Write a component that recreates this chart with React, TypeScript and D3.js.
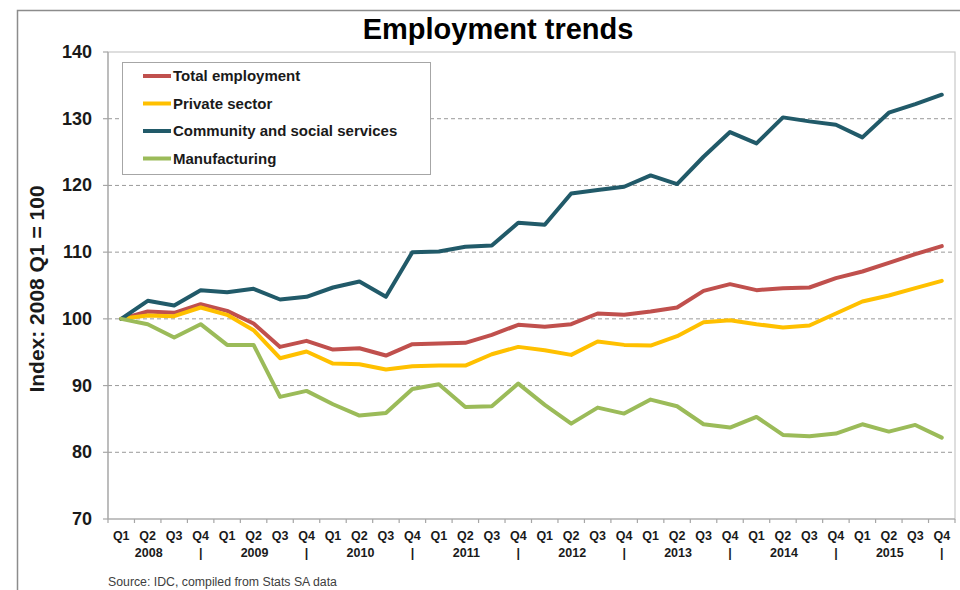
import React from "react";
import * as d3 from "d3";

const quarters = ["Q1", "Q2", "Q3", "Q4"];
const years = ["2008", "2009", "2010", "2011", "2012", "2013", "2014", "2015"];
const categories = years.flatMap((y) => quarters.map((q) => `${y} ${q}`));

const seriesNames = ["Total employment", "Private sector", "Community and social services", "Manufacturing"];

const totalEmployment = [100, 101.1, 100.9, 102.2, 101.2, 99.3, 95.8, 96.7, 95.4, 95.6, 94.5, 96.2, 96.3, 96.4, 97.6, 99.1, 98.8, 99.2, 100.8, 100.6, 101.1, 101.7, 104.2, 105.2, 104.3, 104.6, 104.7, 106.1, 107.1, 108.4, 109.7, 110.9];
const privateSector = [100, 100.5, 100.4, 101.7, 100.6, 98.3, 94.1, 95.1, 93.3, 93.2, 92.4, 92.9, 93.0, 93.0, 94.7, 95.8, 95.3, 94.6, 96.6, 96.1, 96.0, 97.4, 99.5, 99.8, 99.2, 98.7, 99.0, 100.8, 102.6, 103.5, 104.6, 105.7];
const communityServices = [100, 102.7, 102.0, 104.3, 104.0, 104.5, 102.9, 103.3, 104.7, 105.6, 103.3, 110.0, 110.1, 110.8, 111.0, 114.4, 114.1, 118.8, 119.3, 119.8, 121.5, 120.2, 124.3, 128.0, 126.3, 130.2, 129.6, 129.1, 127.2, 130.9, 132.2, 133.6];
const manufacturing = [100, 99.2, 97.2, 99.2, 96.1, 96.1, 88.3, 89.2, 87.2, 85.5, 85.9, 89.5, 90.2, 86.8, 86.9, 90.3, 87.1, 84.3, 86.7, 85.8, 87.9, 86.9, 84.2, 83.7, 85.3, 82.6, 82.4, 82.8, 84.2, 83.1, 84.1, 82.2];

const yTicks = [70, 80, 90, 100, 110, 120, 130, 140];
const colors = ["#c0504d", "#ffc000", "#215a69", "#9bbb59"];

export default function App() {
  const W = 960, H = 590;
  const left = 108, right = 955, top = 52, bottom = 519;
  const x = d3.scaleBand<number>().domain(d3.range(categories.length)).range([left, right]);
  const cx = (i: number) => (x(i) as number) + x.bandwidth() / 2;
  const y = d3.scaleLinear().domain([70, 140]).range([bottom, top]);
  const line = d3.line<number>().x((_, i) => cx(i)).y((v) => y(v));
  const series = [totalEmployment, privateSector, communityServices, manufacturing];
  const font = "'Liberation Sans', Arial, sans-serif";

  return (
    <svg width={W} height={H} style={{ position: "fixed", left: 0, top: 0, background: "#fff" }} fontFamily={font}>
      <rect x={0} y={0} width={W} height={H} fill="#fff" />
      <rect x={17.5} y={10.5} width={960} height={600} fill="none" stroke="#8c8c8c" strokeWidth={1.5} />
      <text x={498} y={39} textAnchor="middle" fontSize={29} fontWeight="bold" fill="#000">Employment trends</text>

      {/* plot border */}
      <rect x={left} y={top} width={right - left} height={bottom - top} fill="none" stroke="#c9c9c9" strokeWidth={1.2} />

      {/* gridlines */}
      {yTicks.filter((t) => t > 70 && t < 140).map((t) => (
        <line key={t} x1={left} x2={right} y1={y(t)} y2={y(t)} stroke="#9a9a9a" strokeWidth={1} strokeDasharray="4,3" />
      ))}

      {/* y axis */}
      <line x1={left} x2={left} y1={top} y2={bottom} stroke="#a6a6a6" strokeWidth={1.2} />
      {yTicks.map((t) => (
        <g key={t}>
          <line x1={left - 5} x2={left} y1={y(t)} y2={y(t)} stroke="#a6a6a6" strokeWidth={1.2} />
          <text x={92} y={y(t) + 6} textAnchor="end" fontSize={18} fontWeight="bold" fill="#1a1a1a">{t}</text>
        </g>
      ))}
      <text transform={`translate(44,${289}) rotate(-90)`} textAnchor="middle" fontSize={21} fontWeight="bold" fill="#1a1a1a">Index: 2008 Q1 = 100</text>

      {/* x axis */}
      <line x1={left} x2={right} y1={bottom} y2={bottom} stroke="#a6a6a6" strokeWidth={1.2} />
      {d3.range(categories.length + 1).map((i) => {
        const xx = i < categories.length ? (x(i) as number) : right;
        return <line key={i} x1={xx} x2={xx} y1={bottom} y2={bottom + 4} stroke="#a6a6a6" strokeWidth={1.2} />;
      })}
      {categories.map((c, i) => (
        <text key={c} x={cx(i)} y={540} textAnchor="middle" fontSize={12.5} fontWeight="bold" fill="#1a1a1a">{quarters[i % 4]}</text>
      ))}
      {years.map((yr, k) => (
        <g key={yr}>
          <text x={cx(k * 4 + 1) + 1} y={557} textAnchor="middle" fontSize={12.5} fontWeight="bold" fill="#1a1a1a">{yr}</text>
          <text x={cx(k * 4 + 3)} y={557} textAnchor="middle" fontSize={12.5} fontWeight="bold" fill="#1a1a1a">|</text>
        </g>
      ))}

      {/* lines */}
      {series.map((s, k) => (
        <path key={k} d={line(s) as string} fill="none" stroke={colors[k]} strokeWidth={4} strokeLinejoin="round" strokeLinecap="round" />
      ))}

      {/* legend */}
      <rect x={122.5} y={62.5} width={308} height={112} fill="#fff" stroke="#a6a6a6" strokeWidth={1} />
      {seriesNames.map((n, k) => {
        const ly = 76 + k * 27.5;
        return (
          <g key={n}>
            <line x1={143} x2={171} y1={ly} y2={ly} stroke={colors[k]} strokeWidth={4} />
            <text x={173} y={ly + 5} fontSize={15} fontWeight="bold" fill="#1a1a1a">{n}</text>
          </g>
        );
      })}

      <text x={108} y={586} fontSize={12.3} fill="#404040">Source: IDC, compiled from Stats SA data</text>
    </svg>
  );
}
